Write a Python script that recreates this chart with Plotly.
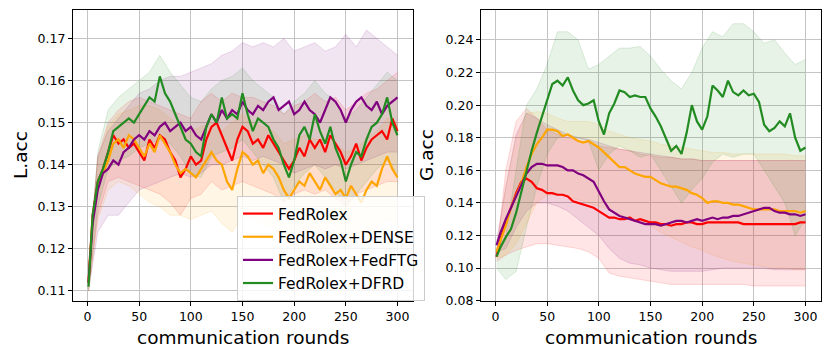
import plotly.graph_objects as go

# communication rounds sampled for the mean curves and for the std bands
ROUNDS = [1] + list(range(5, 301, 5))
BAND_ROUNDS = [1] + list(range(10, 301, 10))

METHODS = ["FedRolex", "FedRolex+DENSE", "FedRolex+FedFTG", "FedRolex+DFRD"]
COLORS = ["#ff0000", "#ffa500", "#800080", "#228b22"]
FILLS = ["rgba(255,0,0,0.10)", "rgba(255,165,0,0.10)", "rgba(128,0,128,0.10)", "rgba(34,139,34,0.10)"]
EDGES = ["rgba(255,0,0,0.18)", "rgba(255,165,0,0.18)", "rgba(128,0,128,0.18)", "rgba(34,139,34,0.18)"]

# ---- L.acc (left panel) ----
lacc_rolex = [0.112, 0.128, 0.136, 0.139, 0.143, 0.147, 0.145, 0.146, 0.144, 0.145,
              0.143, 0.141, 0.146, 0.144, 0.147, 0.146, 0.143, 0.141, 0.137, 0.139,
              0.142, 0.140, 0.141, 0.146, 0.149, 0.150, 0.147, 0.144, 0.141, 0.146,
              0.149, 0.148, 0.145, 0.146, 0.144, 0.147, 0.145, 0.143, 0.141, 0.139,
              0.141, 0.144, 0.142, 0.146, 0.144, 0.146, 0.143, 0.147, 0.145, 0.143,
              0.140, 0.142, 0.145, 0.141, 0.144, 0.146, 0.147, 0.148, 0.146, 0.151,
              0.148]
lacc_dense = [0.112, 0.127, 0.135, 0.138, 0.141, 0.145, 0.146, 0.144, 0.147, 0.146,
              0.144, 0.142, 0.145, 0.143, 0.147, 0.145, 0.143, 0.140, 0.138, 0.139,
              0.138, 0.137, 0.139, 0.141, 0.143, 0.141, 0.140, 0.136, 0.134, 0.139,
              0.143, 0.142, 0.140, 0.141, 0.138, 0.140, 0.139, 0.137, 0.134, 0.132,
              0.134, 0.136, 0.135, 0.138, 0.136, 0.134, 0.137, 0.135, 0.133, 0.134,
              0.132, 0.135, 0.133, 0.131, 0.134, 0.136, 0.135, 0.139, 0.142, 0.139,
              0.137]
lacc_fedftg = [0.112, 0.126, 0.134, 0.138, 0.139, 0.141, 0.140, 0.143, 0.144, 0.146,
               0.147, 0.146, 0.148, 0.147, 0.149, 0.150, 0.148, 0.149, 0.150, 0.148,
               0.149, 0.147, 0.146, 0.149, 0.152, 0.150, 0.153, 0.151, 0.153, 0.152,
               0.155, 0.153, 0.152, 0.154, 0.153, 0.155, 0.156, 0.153, 0.154, 0.155,
               0.152, 0.153, 0.155, 0.153, 0.152, 0.150, 0.153, 0.156, 0.155, 0.153,
               0.150, 0.153, 0.155, 0.156, 0.154, 0.153, 0.155, 0.152, 0.154, 0.155,
               0.156]
lacc_dfrd = [0.111, 0.128, 0.136, 0.139, 0.143, 0.148, 0.149, 0.150, 0.151, 0.150,
             0.152, 0.154, 0.156, 0.155, 0.161, 0.157, 0.155, 0.152, 0.149, 0.146,
             0.145, 0.143, 0.142, 0.149, 0.152, 0.150, 0.156, 0.151, 0.152, 0.151,
             0.157, 0.152, 0.148, 0.151, 0.150, 0.149, 0.146, 0.144, 0.140, 0.137,
             0.141, 0.147, 0.149, 0.146, 0.152, 0.148, 0.145, 0.149, 0.144, 0.141,
             0.136, 0.140, 0.143, 0.142, 0.146, 0.149, 0.150, 0.152, 0.156, 0.150,
             0.147]

lacc_rolex_hi = [0.116, 0.142, 0.150, 0.153, 0.155, 0.156, 0.155, 0.154, 0.153, 0.152, 0.151,
                 0.155, 0.157, 0.155, 0.157, 0.156, 0.156, 0.155, 0.154, 0.152, 0.154,
                 0.155, 0.157, 0.155, 0.156, 0.153, 0.155, 0.157, 0.158, 0.160, 0.162]
lacc_rolex_lo = [0.110, 0.128, 0.136, 0.137, 0.136, 0.135, 0.134, 0.133, 0.131, 0.128, 0.132,
                 0.133, 0.136, 0.134, 0.135, 0.136, 0.135, 0.134, 0.133, 0.131, 0.133,
                 0.134, 0.133, 0.134, 0.132, 0.130, 0.133, 0.134, 0.135, 0.136, 0.136]
lacc_dense_hi = [0.116, 0.141, 0.149, 0.152, 0.153, 0.154, 0.154, 0.153, 0.151, 0.149, 0.148,
                 0.149, 0.150, 0.148, 0.150, 0.152, 0.150, 0.149, 0.148, 0.145, 0.146,
                 0.147, 0.146, 0.146, 0.145, 0.143, 0.144, 0.146, 0.148, 0.151, 0.150]
lacc_dense_lo = [0.110, 0.127, 0.134, 0.136, 0.135, 0.133, 0.131, 0.130, 0.128, 0.128, 0.127,
                 0.128, 0.129, 0.126, 0.124, 0.128, 0.127, 0.126, 0.125, 0.122, 0.123,
                 0.124, 0.124, 0.123, 0.122, 0.121, 0.122, 0.123, 0.125, 0.127, 0.126]
lacc_fedftg_hi = [0.116, 0.142, 0.148, 0.151, 0.154, 0.157, 0.158, 0.160, 0.161, 0.161, 0.162,
                  0.163, 0.164, 0.166, 0.167, 0.169, 0.168, 0.169, 0.168, 0.170, 0.167,
                  0.168, 0.169, 0.167, 0.168, 0.171, 0.168, 0.172, 0.170, 0.168, 0.166]
lacc_fedftg_lo = [0.110, 0.124, 0.128, 0.128, 0.131, 0.134, 0.135, 0.136, 0.137, 0.138, 0.137,
                  0.138, 0.140, 0.140, 0.141, 0.142, 0.141, 0.142, 0.141, 0.140, 0.138,
                  0.139, 0.140, 0.139, 0.140, 0.139, 0.140, 0.141, 0.142, 0.143, 0.143]
lacc_dfrd_hi = [0.115, 0.143, 0.153, 0.156, 0.158, 0.160, 0.162, 0.166, 0.162, 0.159, 0.156,
                0.155, 0.158, 0.160, 0.161, 0.163, 0.160, 0.158, 0.156, 0.152, 0.155,
                0.157, 0.160, 0.157, 0.155, 0.151, 0.153, 0.156, 0.159, 0.162, 0.160]
lacc_dfrd_lo = [0.110, 0.130, 0.139, 0.141, 0.142, 0.144, 0.145, 0.146, 0.145, 0.142, 0.138,
                0.137, 0.142, 0.143, 0.144, 0.146, 0.143, 0.140, 0.137, 0.131, 0.135,
                0.138, 0.140, 0.137, 0.134, 0.130, 0.133, 0.136, 0.139, 0.141, 0.138]

# ---- G.acc (right panel) ----
gacc_rolex = [0.107, 0.118, 0.128, 0.137, 0.146, 0.153, 0.155, 0.153, 0.149, 0.148,
              0.146, 0.146, 0.145, 0.145, 0.144, 0.141, 0.140, 0.139, 0.138, 0.137,
              0.135, 0.133, 0.131, 0.131, 0.130, 0.130, 0.131, 0.129, 0.130, 0.129,
              0.128, 0.128, 0.127, 0.127, 0.126, 0.127, 0.127, 0.128, 0.128, 0.127,
              0.127, 0.128, 0.128, 0.128, 0.128, 0.128, 0.128, 0.128, 0.127, 0.127,
              0.127, 0.127, 0.127, 0.127, 0.127, 0.127, 0.127, 0.127, 0.127, 0.128,
              0.128]
gacc_dense = [0.110, 0.117, 0.126, 0.137, 0.145, 0.152, 0.162, 0.170, 0.176, 0.180,
              0.185, 0.185, 0.184, 0.181, 0.182, 0.180, 0.178, 0.177, 0.178, 0.176,
              0.174, 0.171, 0.168, 0.165, 0.162, 0.162, 0.160, 0.158, 0.157, 0.156,
              0.156, 0.154, 0.152, 0.151, 0.150, 0.150, 0.149, 0.148, 0.146, 0.145,
              0.143, 0.140, 0.141, 0.141, 0.140, 0.140, 0.139, 0.139, 0.138, 0.137,
              0.136, 0.136, 0.136, 0.136, 0.136, 0.135, 0.135, 0.135, 0.135, 0.134,
              0.135]
gacc_fedftg = [0.114, 0.122, 0.130, 0.137, 0.145, 0.151, 0.158, 0.162, 0.164, 0.164,
               0.163, 0.163, 0.163, 0.162, 0.160, 0.160, 0.158, 0.157, 0.155, 0.153,
               0.147, 0.141, 0.136, 0.134, 0.132, 0.131, 0.130, 0.129, 0.128, 0.127,
               0.127, 0.127, 0.126, 0.127, 0.128, 0.129, 0.129, 0.128, 0.129, 0.130,
               0.129, 0.130, 0.131, 0.130, 0.131, 0.131, 0.132, 0.132, 0.133, 0.134,
               0.135, 0.136, 0.137, 0.137, 0.135, 0.134, 0.134, 0.133, 0.133, 0.132,
               0.133]
gacc_dfrd = [0.107, 0.113, 0.119, 0.124, 0.134, 0.147, 0.160, 0.172, 0.183, 0.193,
             0.203, 0.213, 0.215, 0.212, 0.217, 0.209, 0.203, 0.200, 0.201, 0.203,
             0.190, 0.182, 0.195, 0.201, 0.209, 0.208, 0.205, 0.206, 0.205, 0.205,
             0.198, 0.193, 0.187, 0.180, 0.172, 0.175, 0.170, 0.183, 0.200, 0.190,
             0.185, 0.193, 0.212, 0.209, 0.205, 0.215, 0.208, 0.206, 0.209, 0.206,
             0.207, 0.202, 0.188, 0.184, 0.186, 0.190, 0.187, 0.195, 0.180, 0.172,
             0.174]

gacc_rolex_hi = [0.108, 0.160, 0.190, 0.198, 0.192, 0.185, 0.182, 0.180, 0.178, 0.177, 0.175,
                 0.174, 0.173, 0.172, 0.170, 0.169, 0.168, 0.168, 0.167, 0.167, 0.166,
                 0.166, 0.166, 0.166, 0.166, 0.166, 0.166, 0.166, 0.166, 0.166, 0.166]
gacc_rolex_lo = [0.104, 0.108, 0.111, 0.113, 0.115, 0.115, 0.114, 0.113, 0.112, 0.110, 0.106,
                 0.097, 0.095, 0.094, 0.093, 0.092, 0.091, 0.090, 0.090, 0.090, 0.090,
                 0.090, 0.090, 0.090, 0.090, 0.089, 0.089, 0.089, 0.089, 0.089, 0.089]
gacc_dense_hi = [0.112, 0.150, 0.180, 0.195, 0.196, 0.195, 0.192, 0.190, 0.190, 0.190, 0.188,
                 0.184, 0.182, 0.180, 0.179, 0.178, 0.176, 0.175, 0.174, 0.173, 0.172,
                 0.171, 0.171, 0.170, 0.170, 0.170, 0.170, 0.170, 0.170, 0.169, 0.169]
gacc_dense_lo = [0.106, 0.108, 0.115, 0.128, 0.140, 0.145, 0.145, 0.144, 0.142, 0.140, 0.138,
                 0.136, 0.133, 0.131, 0.128, 0.126, 0.122, 0.119, 0.116, 0.113, 0.111,
                 0.108, 0.106, 0.104, 0.103, 0.102, 0.101, 0.100, 0.100, 0.099, 0.099]
gacc_fedftg_hi = [0.116, 0.150, 0.182, 0.195, 0.192, 0.188, 0.185, 0.182, 0.180, 0.179, 0.177,
                  0.175, 0.173, 0.172, 0.171, 0.170, 0.169, 0.168, 0.167, 0.167, 0.166,
                  0.166, 0.166, 0.166, 0.166, 0.166, 0.166, 0.166, 0.166, 0.166, 0.166]
gacc_fedftg_lo = [0.110, 0.112, 0.125, 0.135, 0.140, 0.140, 0.138, 0.135, 0.130, 0.125, 0.120,
                  0.112, 0.106, 0.103, 0.102, 0.100, 0.099, 0.098, 0.098, 0.098, 0.098,
                  0.099, 0.100, 0.100, 0.100, 0.100, 0.100, 0.099, 0.099, 0.099, 0.099]
gacc_dfrd_hi = [0.110, 0.120, 0.160, 0.200, 0.210, 0.225, 0.245, 0.245, 0.240, 0.222, 0.225,
                0.230, 0.235, 0.235, 0.236, 0.230, 0.222, 0.215, 0.210, 0.220, 0.235,
                0.245, 0.242, 0.250, 0.250, 0.245, 0.238, 0.240, 0.232, 0.225, 0.228]
gacc_dfrd_lo = [0.100, 0.093, 0.098, 0.125, 0.150, 0.170, 0.180, 0.182, 0.180, 0.178, 0.160,
                0.170, 0.175, 0.172, 0.168, 0.170, 0.160, 0.150, 0.140, 0.148, 0.155,
                0.165, 0.170, 0.168, 0.170, 0.170, 0.160, 0.150, 0.140, 0.120, 0.130]

LACC = {
    "mean": [lacc_rolex, lacc_dense, lacc_fedftg, lacc_dfrd],
    "hi": [lacc_rolex_hi, lacc_dense_hi, lacc_fedftg_hi, lacc_dfrd_hi],
    "lo": [lacc_rolex_lo, lacc_dense_lo, lacc_fedftg_lo, lacc_dfrd_lo],
}
GACC = {
    "mean": [gacc_rolex, gacc_dense, gacc_fedftg, gacc_dfrd],
    "hi": [gacc_rolex_hi, gacc_dense_hi, gacc_fedftg_hi, gacc_dfrd_hi],
    "lo": [gacc_rolex_lo, gacc_dense_lo, gacc_fedftg_lo, gacc_dfrd_lo],
}

# the page body keeps its default 8px margin, so the figure is 8px smaller
# and window pixel positions are shifted by 8 before converting to paper coords
OFF = 8
W, H = 831 - OFF, 358 - OFF
FONT = "DejaVu Sans, Arial, sans-serif"


def px(xp):
    return (xp - OFF) / W


def py(yp):
    return 1 - (yp - OFF) / H


fig = go.Figure()


def add_panel(fig, data, xa, ya, show_legend):
    for i in range(4):
        fig.add_trace(go.Scatter(
            x=BAND_ROUNDS, y=data["lo"][i], mode="lines",
            line=dict(color=EDGES[i], width=0.8), xaxis=xa, yaxis=ya,
            showlegend=False, hoverinfo="skip"))
        fig.add_trace(go.Scatter(
            x=BAND_ROUNDS, y=data["hi"][i], mode="lines", fill="tonexty",
            fillcolor=FILLS[i], line=dict(color=EDGES[i], width=0.8),
            xaxis=xa, yaxis=ya, showlegend=False, hoverinfo="skip"))
    for i in range(4):
        fig.add_trace(go.Scatter(
            x=ROUNDS, y=data["mean"][i], mode="lines", name=METHODS[i],
            line=dict(color=COLORS[i], width=2.2), xaxis=xa, yaxis=ya,
            showlegend=show_legend))


add_panel(fig, LACC, "x", "y", True)
add_panel(fig, GACC, "x2", "y2", False)

axis_common = dict(
    showline=True, linecolor="black", linewidth=1.2, mirror=True,
    showgrid=True, gridcolor="#c4c4c4", gridwidth=1.3,
    ticks="outside", ticklen=4, tickcolor="black", tickwidth=1,
    tickfont=dict(family=FONT, size=12.5, color="black"),
    zeroline=False,
)

y_dom = [py(301), py(9.5)]
fig.update_layout(
    width=W, height=H,
    margin=dict(l=0, r=0, t=0, b=0, autoexpand=False),
    paper_bgcolor="white", plot_bgcolor="white",
    font=dict(family=FONT, color="black"),
    xaxis=dict(domain=[px(73), px(413)], range=[-14, 315],
               tickvals=[0, 50, 100, 150, 200, 250, 300], anchor="y", **axis_common),
    yaxis=dict(domain=y_dom, range=[0.1076, 0.1769],
               tickvals=[0.11, 0.12, 0.13, 0.14, 0.15, 0.16, 0.17],
               tickformat=".2f", anchor="x", **axis_common),
    xaxis2=dict(domain=[px(481), px(821)], range=[-14, 315],
                tickvals=[0, 50, 100, 150, 200, 250, 300], anchor="y2", **axis_common),
    yaxis2=dict(domain=y_dom, range=[0.0798, 0.2587],
                tickvals=[0.08, 0.10, 0.12, 0.14, 0.16, 0.18, 0.20, 0.22, 0.24],
                tickformat=".2f", anchor="x2", **axis_common),
    legend=dict(
        x=px(237), y=py(196), xanchor="left", yanchor="top",
        bgcolor="rgba(255,255,255,0.82)", bordercolor="#cccccc", borderwidth=1,
        font=dict(family=FONT, size=15.5, color="black"),
        traceorder="normal", tracegroupgap=0, itemwidth=30,
    ),
    showlegend=True,
)

label_font = dict(family=FONT, size=18.5, color="black")
annotations = [
    dict(text="communication rounds", x=px((73 + 413) / 2), y=py(337)),
    dict(text="communication rounds", x=px((481 + 821) / 2), y=py(337)),
    dict(text="L.acc", x=px(21), y=py(155), textangle=-90),
    dict(text="G.acc", x=px(427), y=py(155), textangle=-90),
]
for a in annotations:
    a.update(xref="paper", yref="paper", showarrow=False, font=label_font,
             xanchor="center", yanchor="middle")
fig.update_layout(annotations=annotations)

fig.write_html("out.html")
